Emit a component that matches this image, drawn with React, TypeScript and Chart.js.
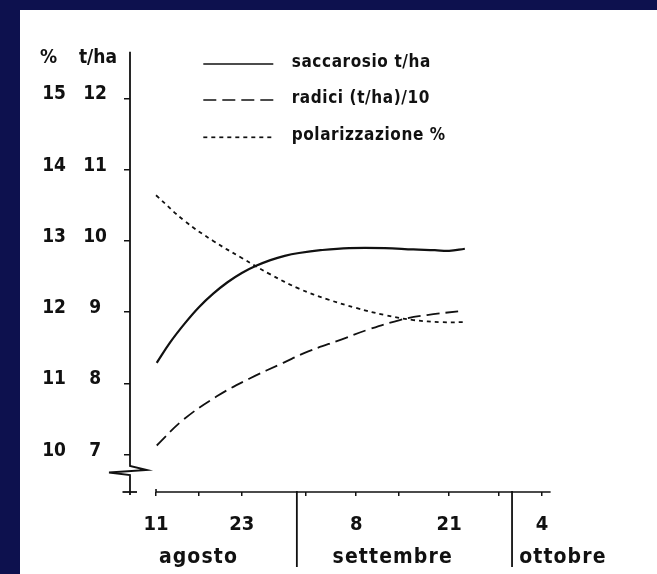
import React, { useEffect, useRef } from 'react';
import { Chart, registerables } from 'chart.js';

Chart.register(...registerables);

// ---------------- DATA ----------------
// x = days after 11 August
const saccarosioDays = [0.1, 2, 4, 6, 8, 10, 12, 14, 16, 18, 20, 23, 27, 32, 36, 39, 41, 43.2];
const saccarosioTha = [8.29, 8.58, 8.84, 9.07, 9.26, 9.42, 9.55, 9.65, 9.73, 9.79, 9.83, 9.87, 9.9, 9.9, 9.88, 9.87, 9.86, 9.89];

const radiciDays = [0.1, 3.8, 8.5, 13.1, 17.8, 21.3, 26.0, 29.5, 34.1, 37.9, 43.0];
const radiciTha10 = [7.13, 7.49, 7.82, 8.07, 8.29, 8.45, 8.62, 8.75, 8.89, 8.96, 9.02];

const polarDays = [0, 4, 8, 12, 16, 20, 24, 28, 32, 36, 40, 43];
const polarPct = [13.64, 13.28, 13.0, 12.76, 12.53, 12.33, 12.18, 12.06, 11.96, 11.89, 11.86, 11.86];

const seriesLabels = ['saccarosio t/ha', 'radici (t/ha)/10', 'polarizzazione %'];

const xTickDays = [0, 6, 12, 21, 28, 34, 41, 48, 54];
const xTickLabels = ['11', '', '23', '', '8', '', '21', '', '4'];
const monthNames = ['agosto', 'settembre', 'ottobre'];
const monthBoundaryDays = [19.7, 49.8];
const thaTicks = [7, 8, 9, 10, 11, 12];
const pctTicks = [10, 11, 12, 13, 14, 15];
const axisTitles = ['%', 't/ha'];

// ---------------- STYLE / LAYOUT ----------------
const NAVY = '#0d114e';
const INK = '#111111';
const FAMILY = "'DejaVu Sans Condensed', 'Liberation Sans Narrow', sans-serif";
const X_AXIS_END_DAY = 55.2;
const MONTH_LABEL_START_DAYS = [0.4, 24.7, 50.8];
const DASHES = [[], [13, 6], [4, 4]];

const toXY = (xs: number[], ys: number[]) => xs.map((x, i) => ({ x, y: ys[i] }));

const decorPlugin = {
  id: 'decor',
  afterDraw(chart: any) {
    const { ctx, chartArea } = chart;
    const xs = chart.scales.x;
    const L = chartArea.left;
    const B = chartArea.bottom;
    ctx.save();
    ctx.strokeStyle = INK;
    ctx.fillStyle = INK;
    ctx.lineCap = 'butt';

    // y axis line with break
    ctx.lineWidth = 1.8;
    ctx.beginPath();
    ctx.moveTo(L, chartArea.top);
    ctx.lineTo(L, B - 26);
    ctx.lineTo(L + 17, B - 22);
    ctx.lineTo(L - 21, B - 19.5);
    ctx.lineTo(L, B - 17);
    ctx.lineTo(L, B + 3);
    ctx.stroke();
    // cross at bottom
    ctx.beginPath();
    ctx.moveTo(L - 7.5, B);
    ctx.lineTo(L + 7, B);
    ctx.stroke();

    // x axis line
    const x0 = xs.getPixelForValue(0);
    const x1 = xs.getPixelForValue(X_AXIS_END_DAY);
    ctx.lineWidth = 1.6;
    ctx.beginPath();
    ctx.moveTo(x0, B - 3);
    ctx.lineTo(x0, B);
    ctx.lineTo(x1, B);
    ctx.stroke();

    // month separators
    ctx.lineWidth = 1.8;
    monthBoundaryDays.forEach((d) => {
      const px = xs.getPixelForValue(d);
      ctx.beginPath();
      ctx.moveTo(px, B - 1);
      ctx.lineTo(px, B + 75);
      ctx.stroke();
    });

    // month names
    ctx.font = `bold 21px ${FAMILY}`;
    (ctx as any).letterSpacing = '1.1px';
    ctx.textAlign = 'left';
    ctx.textBaseline = 'alphabetic';
    monthNames.forEach((m, i) => {
      ctx.fillText(m, xs.getPixelForValue(MONTH_LABEL_START_DAYS[i]), B + 71);
    });

    // axis titles
    (ctx as any).letterSpacing = '0px';
    ctx.font = `bold 19px ${FAMILY}`;
    ctx.textAlign = 'center';
    ctx.fillText(axisTitles[0], 28.5, 53);
    ctx.fillText(axisTitles[1], 78, 53);

    // legend
    const rows = [54, 90, 127.3];
    ctx.font = `bold 17px ${FAMILY}`;
    (ctx as any).letterSpacing = '0.6px';
    ctx.textAlign = 'left';
    chart.data.datasets.forEach((ds: any, i: number) => {
      const y = rows[i];
      ctx.lineWidth = 1.7;
      ctx.setLineDash(DASHES[i]);
      ctx.beginPath();
      ctx.moveTo(183.3, y);
      ctx.lineTo(253.3, y);
      ctx.stroke();
      ctx.setLineDash([]);
      ctx.fillText(ds.label, 271.7, y + 3);
    });
    ctx.restore();
  },
};

export default function App() {
  const ref = useRef<HTMLCanvasElement>(null);

  useEffect(() => {
    const font = { family: FAMILY, weight: 'bold' as const, size: 19 };
    const chart = new Chart(ref.current as HTMLCanvasElement, {
      type: 'line',
      data: {
        datasets: [
          {
            label: seriesLabels[0],
            data: toXY(saccarosioDays, saccarosioTha),
            yAxisID: 'y',
            borderColor: INK,
            borderWidth: 2.2,
            borderDash: DASHES[0],
            pointRadius: 0,
            tension: 0.4,
            fill: false,
          },
          {
            label: seriesLabels[1],
            data: toXY(radiciDays, radiciTha10),
            yAxisID: 'y',
            borderColor: INK,
            borderWidth: 1.8,
            borderDash: DASHES[1],
            pointRadius: 0,
            tension: 0.4,
            fill: false,
          },
          {
            label: seriesLabels[2],
            data: toXY(polarDays, polarPct),
            yAxisID: 'yPct',
            borderColor: INK,
            borderWidth: 1.8,
            borderDash: DASHES[2],
            pointRadius: 0,
            tension: 0.4,
            fill: false,
          },
        ],
      },
      options: {
        responsive: false,
        animation: false,
        layout: { padding: { left: 10, top: 41.7, right: 17, bottom: 42 } },
        plugins: { legend: { display: false }, tooltip: { enabled: false } },
        scales: {
          x: {
            type: 'linear',
            min: -3.64,
            max: 67.7,
            afterBuildTicks: (s: any) => {
              s.ticks = xTickDays.map((v) => ({ value: v }));
            },
            afterFit: (s: any) => {
              s.height = 40;
            },
            ticks: {
              font: { ...font, size: 20 },
              color: INK,
              padding: 17,
              autoSkip: false,
              maxRotation: 0,
              callback: (_v: any, i: number) => xTickLabels[i],
            },
            grid: { display: true, drawOnChartArea: false, drawTicks: true, tickLength: 4, color: INK, lineWidth: 1.5 },
            border: { display: false },
          },
          y: {
            type: 'linear',
            position: 'left',
            weight: 0,
            min: 6.478,
            max: 12.654,
            afterBuildTicks: (s: any) => {
              s.ticks = thaTicks.map((v) => ({ value: v }));
            },
            afterFit: (s: any) => {
              s.width = 50;
            },
            ticks: { font, color: INK, padding: 17, crossAlign: 'center', labelOffset: -4 },
            grid: { display: true, drawOnChartArea: false, drawTicks: true, tickLength: 6, color: INK, lineWidth: 1.5 },
            border: { display: false },
          },
          yPct: {
            type: 'linear',
            position: 'left',
            weight: 1,
            min: 9.478,
            max: 15.654,
            afterBuildTicks: (s: any) => {
              s.ticks = pctTicks.map((v) => ({ value: v }));
            },
            afterFit: (s: any) => {
              s.width = 50;
            },
            ticks: { font, color: INK, padding: 14, crossAlign: 'center', labelOffset: -4 },
            grid: { display: false, drawTicks: false },
            border: { display: false },
          },
        },
      },
      plugins: [decorPlugin],
    } as any);
    return () => chart.destroy();
  }, []);

  return (
    <div style={{ position: 'absolute', left: 0, top: 0, width: 657, height: 574, background: NAVY, overflow: 'hidden' }}>
      <div style={{ position: 'absolute', left: 20, top: 10, width: 637, height: 564, background: '#ffffff' }}>
        <canvas ref={ref} width={637} height={564} style={{ display: 'block', width: 637, height: 564 }} />
      </div>
    </div>
  );
}
